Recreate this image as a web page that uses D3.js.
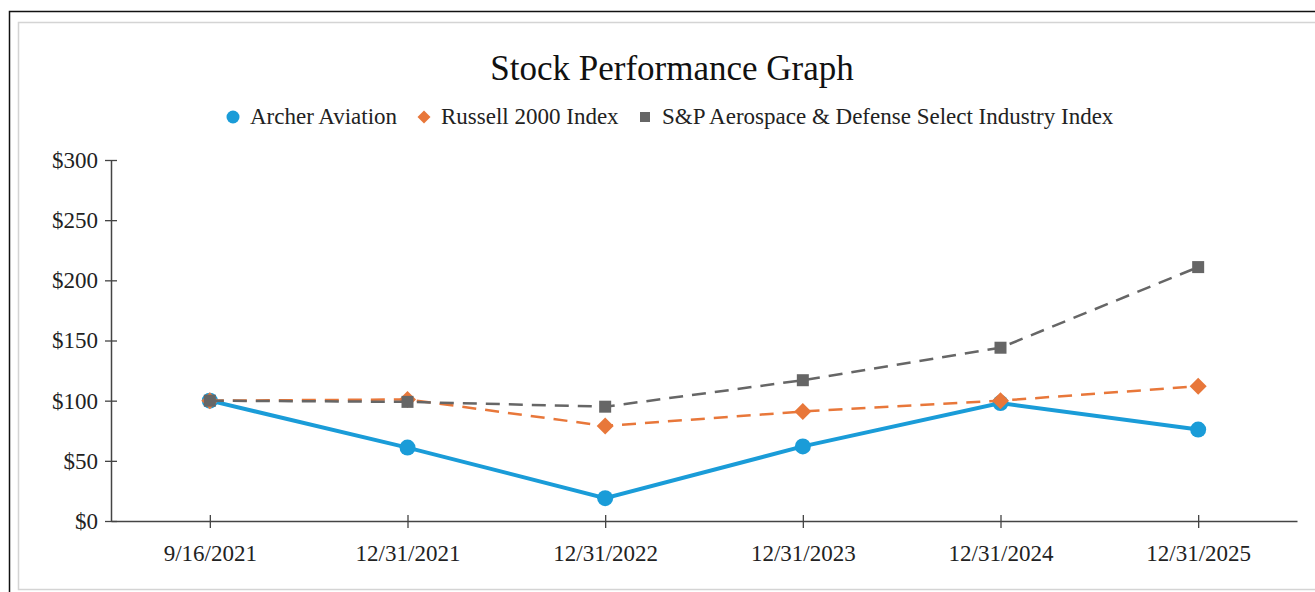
<!DOCTYPE html>
<html>
<head>
<meta charset="utf-8">
<script src="https://cdn.jsdelivr.net/npm/d3@7"></script>
<style>
  body { margin: 0; background: #fff; }
  text { font-family: "Liberation Serif", "Times New Roman", serif; fill: #222; }
</style>
</head>
<body>
<svg id="chart" width="1315" height="592"></svg>
<script>
// data
let dates = ["9/16/2021", "12/31/2021", "12/31/2022", "12/31/2023", "12/31/2024", "12/31/2025"]
let archer = [100, 61, 19, 62, 98, 76]
let russell = [100, 101, 79, 91, 100, 112]
let spAero = [100, 99, 95, 117, 144, 211]
let yTicks = [0, 50, 100, 150, 200, 250, 300]

let series = [
    { name: "Archer Aviation", values: archer, color: "#1a9cd8", dash: null, width: 4, shape: "circle" },
    { name: "Russell 2000 Index", values: russell, color: "#e8773a", dash: "14,9", width: 2.5, shape: "diamond" },
    { name: "S&P Aerospace & Defense Select Industry Index", values: spAero, color: "#666666", dash: "14,9", width: 2.5, shape: "square" }
]

let svg = d3.select('#chart')

// frames
svg.append('rect').attr('x', 9.5).attr('y', 11.5).attr('width', 1320).attr('height', 600)
    .attr('fill', 'none').attr('stroke', '#111').attr('stroke-width', 1.5)
svg.append('rect').attr('x', 18.5).attr('y', 22.5).attr('width', 1310).attr('height', 567)
    .attr('fill', 'none').attr('stroke', '#d4d4d4').attr('stroke-width', 1.5)

let x = d3.scalePoint().domain(dates).range([111, 1297]).padding(0.5)
let y = d3.scaleLinear().domain([0, 300]).range([521, 160])

// title
svg.append('text').attr('x', 672).attr('y', 80).attr('text-anchor', 'middle')
    .style('font-size', '35px').style('fill', '#111').text('Stock Performance Graph')

// y axis
let yAxis = svg.append('g').attr('transform', 'translate(111,0)')
    .call(d3.axisLeft(y).tickValues(yTicks).tickFormat((d) => '$' + d).tickSizeInner(6).tickSizeOuter(0))
yAxis.select('.domain').attr('stroke', '#444').attr('stroke-width', 1.5)
yAxis.selectAll('.tick line').attr('x2', 6).attr('x1', -6).attr('stroke', '#444').attr('stroke-width', 1.3)
yAxis.selectAll('.tick text').attr('x', -13)

// x axis
let xAxis = svg.append('g').attr('transform', 'translate(0,521)')
    .call(d3.axisBottom(x).tickSizeInner(6).tickSizeOuter(0))
xAxis.select('.domain').attr('stroke', '#444').attr('stroke-width', 1.5)
xAxis.selectAll('.tick line').attr('y1', -6).attr('y2', 7).attr('stroke', '#444').attr('stroke-width', 1.3)
xAxis.selectAll('.tick text').attr('y', 24)
svg.selectAll('.tick text').style('fill', '#222').style('font-size', '23px')

let line = d3.line().x((d, i) => x(dates[i])).y((d) => y(d))

function drawMarker(g, shape, color, cx, cy, s) {
    if (shape == "circle") {
        g.append('circle').attr('cx', cx).attr('cy', cy).attr('r', s).attr('fill', color)
    } else if (shape == "diamond") {
        g.append('path').attr('d', `M${cx},${cy - s}L${cx + s},${cy}L${cx},${cy + s}L${cx - s},${cy}Z`).attr('fill', color)
    } else {
        g.append('rect').attr('x', cx - s).attr('y', cy - s).attr('width', 2 * s).attr('height', 2 * s).attr('fill', color)
    }
}

let sizes = { circle: 8, diamond: 8.5, square: 6 }

for (let s of series) {
    let g = svg.append('g')
    g.append('path').datum(s.values).attr('d', line).attr('fill', 'none')
        .attr('stroke', s.color).attr('stroke-width', s.width)
        .attr('stroke-dasharray', s.dash)
    s.values.forEach((v, i) => drawMarker(g, s.shape, s.color, x(dates[i]), y(v), sizes[s.shape]))
}

// legend
let legend = svg.append('g').attr('transform', 'translate(0,124)')
let legendX = [233, 424, 645]
let legendSizes = { circle: 6.5, diamond: 6.5, square: 5 }
series.forEach((s, i) => {
    drawMarker(legend, s.shape, s.color, legendX[i], -7, legendSizes[s.shape])
    legend.append('text').attr('x', legendX[i] + 17).attr('y', 0).style('font-size', '23px').text(s.name)
})
</script>
</body>
</html>
